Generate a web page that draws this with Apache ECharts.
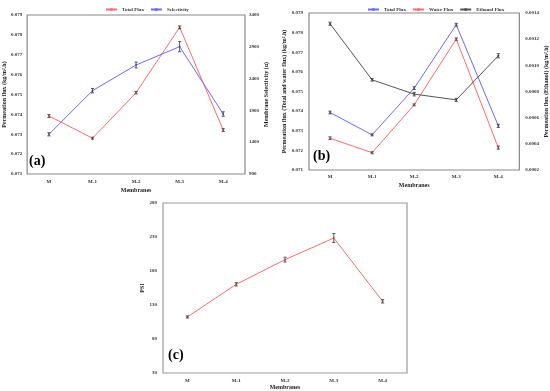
<!DOCTYPE html>
<html><head><meta charset="utf-8">
<script src="https://cdn.jsdelivr.net/npm/echarts@6/dist/echarts.min.js"></script>
<style>html,body{margin:0;padding:0;background:#fff}#c{width:550px;height:391px}</style>
</head><body><div id="c"></div>
<script>
const categories = ['M', 'M-1', 'M-2', 'M-3', 'M-4'];
// Panel (a)
const totalFluxA = [0.07392, 0.07280, 0.07509, 0.07838, 0.07321];
const totalFluxAErr = [0.00007, 0.00005, 0.00006, 0.00007, 0.00007];
const selectivityA = [1524, 2210, 2614, 2902, 1843];
const selectivityAErr = [25, 35, 45, 80, 35];
// Panel (b)
const totalFluxB = [0.07393, 0.07279, 0.07517, 0.07840, 0.07325];
const totalFluxBErr = [0.00007, 0.00005, 0.00007, 0.00007, 0.00008];
const waterFluxB = [0.07262, 0.07188, 0.07432, 0.07767, 0.07214];
const waterFluxBErr = [0.00007, 0.00005, 0.00005, 0.00006, 0.00008];
const ethanolFluxB = [0.001318, 0.000889, 0.000780, 0.000736, 0.001073];
const ethanolFluxBErr = [0.000012, 0.000010, 0.000014, 0.000012, 0.000016];
// Panel (c)
const psiC = [112.4, 160.4, 196.7, 228.5, 135.4];
const psiCErr = [1.5, 2.5, 3.5, 6.5, 2.5];

const FONT = '"Liberation Serif", "Times New Roman", serif';

function errData(vals, errs){ return vals.map((v,i)=>[i, v, errs[i]]); }
function errRender(params, api){
  const x = api.value(0), v = api.value(1), e = api.value(2);
  const hi = api.coord([x, v+e]), lo = api.coord([x, v-e]);
  const w = 1.6;
  const st = {stroke:'#333', lineWidth:0.8};
  return {type:'group', children:[
    {type:'line', shape:{x1:hi[0],y1:hi[1],x2:lo[0],y2:lo[1]}, style:st},
    {type:'line', shape:{x1:hi[0]-w,y1:hi[1],x2:hi[0]+w,y2:hi[1]}, style:st},
    {type:'line', shape:{x1:lo[0]-w,y1:lo[1],x2:lo[0]+w,y2:lo[1]}, style:st}
  ]};
}
const RED = '#ff6b6b', BLUE = '#6b6bff', GRAY = '#555555';
const tickLbl = {fontSize:5, fontFamily:FONT, fontWeight:'bold', color:'#333'};
const nameSt = {fontSize:6, fontFamily:FONT, fontWeight:'bold', color:'#222'};

function xAx(gi, gap, nameGap){
  return {type:'category', gridIndex:gi, data:categories, boundaryGap:true,
    axisLine:{show:false}, axisTick:{show:false}, splitLine:{show:false},
    axisLabel:Object.assign({margin:gap}, tickLbl),
    name:'Membranes', nameLocation:'middle', nameGap:nameGap, nameTextStyle:nameSt};
}
function yAx(gi, pos, min, max, interval, dec, name, nameGap, labelMargin){
  return {type:'value', gridIndex:gi, position:pos, min:min, max:max, interval:interval,
    axisLine:{show:false}, axisTick:{show:false}, splitLine:{show:false},
    axisLabel:Object.assign({margin:labelMargin, formatter:v=>v.toFixed(dec)}, tickLbl),
    name:name, nameLocation:'middle', nameGap:nameGap, nameRotate:90,
    nameTextStyle:nameSt};
}
function lineS(name, data, color, xi, yi){
  return {type:'line', name:name, data:data, xAxisIndex:xi, yAxisIndex:yi,
    symbol:'circle', symbolSize:2, lineStyle:{color:color, width:1}, itemStyle:{color:color}, z:2};
}
function errS(vals, errs, xi, yi){
  return {type:'custom', data:errData(vals, errs), xAxisIndex:xi, yAxisIndex:yi,
    renderItem:errRender, encode:{x:0,y:1}, z:3, silent:true};
}

const chart = echarts.init(document.getElementById('c'), null, {renderer:'canvas'});
chart.setOption({
  animation:false,
  backgroundColor:'#fff',
  grid:[
    {left:26, top:15, width:219, height:159, show:true, borderColor:'#888', borderWidth:1.2, backgroundColor:'transparent'},
    {left:309, top:13, width:213, height:157, show:true, borderColor:'#888', borderWidth:1.2, backgroundColor:'transparent'},
    {left:163, top:203, width:244, height:170, show:true, borderColor:'#999', borderWidth:1.2, backgroundColor:'transparent'}
  ],
  legend:[
    {data:['Total Flux','Selectivity'], top:2, left:100, itemWidth:11, itemHeight:4, itemGap:6,
      textStyle:{fontSize:5, fontFamily:FONT, fontWeight:'bold', color:'#333'}},
    {data:['Total Flux (b)','Water Flux (b)','Ethanol Flux (b)'], top:2, left:362, itemWidth:11, itemHeight:4, itemGap:6,
      formatter:n=>n.replace(' (b)',''),
      textStyle:{fontSize:5, fontFamily:FONT, fontWeight:'bold', color:'#333'}}
  ],
  xAxis:[ xAx(0, 5, 13), xAx(1, 4, 12), xAx(2, 5, 11) ],
  yAxis:[
    yAx(0,'left',0.071,0.079,0.001,3,'Permeation flux (kg/m\u00b2.h)',19,5),
    yAx(0,'right',900,3400,500,0,'Membrane Selectivity (\u03b1)',18,4),
    yAx(1,'left',0.071,0.079,0.001,3,'Permeation flux (Total and water flux) (kg/m\u00b2.h)',20,6),
    yAx(1,'right',0.0002,0.0014,0.0002,4,'Permeation flux (Ethanol) (kg/m\u00b2.h)',23,6),
    yAx(2,'left',30,280,50,0,'PSI',15,6)
  ],
  series:[
    lineS('Total Flux', totalFluxA, RED, 0, 0),
    lineS('Selectivity', selectivityA, BLUE, 0, 1),
    errS(totalFluxA, totalFluxAErr, 0, 0),
    errS(selectivityA, selectivityAErr, 0, 1),
    lineS('Total Flux (b)', totalFluxB, BLUE, 1, 2),
    lineS('Water Flux (b)', waterFluxB, RED, 1, 2),
    lineS('Ethanol Flux (b)', ethanolFluxB, GRAY, 1, 3),
    errS(totalFluxB, totalFluxBErr, 1, 2),
    errS(waterFluxB, waterFluxBErr, 1, 2),
    errS(ethanolFluxB, ethanolFluxBErr, 1, 3),
    lineS('PSI', psiC, RED, 2, 4),
    errS(psiC, psiCErr, 2, 4)
  ],
  graphic:[
    {type:'text', left:29, top:154, style:{text:'(a)', font:'bold 14px '+FONT, fill:'#000'}},
    {type:'text', left:313, top:149, style:{text:'(b)', font:'bold 14px '+FONT, fill:'#000'}},
    {type:'text', left:168, top:348, style:{text:'(c)', font:'bold 14px '+FONT, fill:'#000'}}
  ]
});
</script></body></html>
